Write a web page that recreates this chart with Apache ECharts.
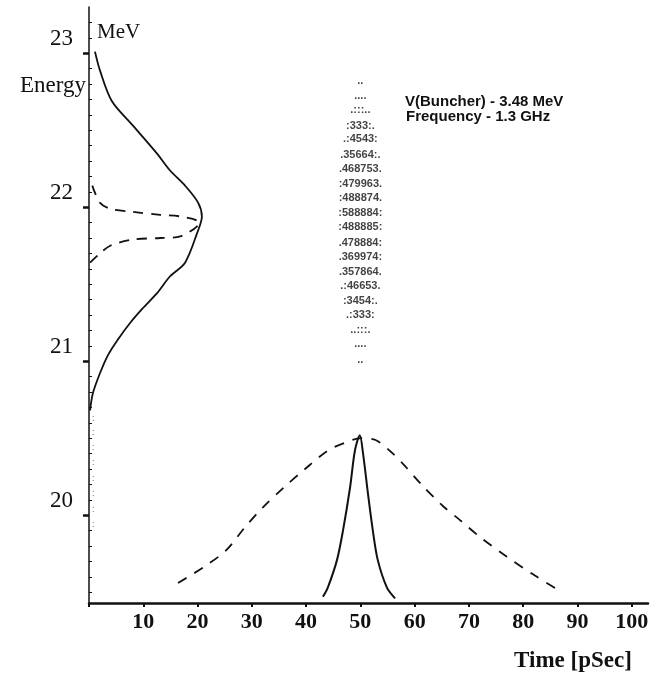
<!DOCTYPE html>
<html>
<head>
<meta charset="utf-8">
<script src="https://cdn.jsdelivr.net/npm/echarts@6/dist/echarts.min.js"></script>
<style>
  html, body { margin: 0; padding: 0; background: #fff; }
  #chart { width: 650px; height: 679px; }
</style>
</head>
<body>
<div id="chart"></div>
<script>
// energy spectrum (x = time axis units, y = MeV)
var energySolid = [
  [1.1, 23.01], [2.0, 22.89], [4.2, 22.69], [8.1, 22.53], [12.5, 22.35],
  [14.9, 22.24], [17.7, 22.14], [20.1, 22.03], [20.8, 21.94], [19.9, 21.83],
  [17.7, 21.64], [14.9, 21.55], [12.5, 21.44], [9.8, 21.34], [7.6, 21.25],
  [5.3, 21.14], [3.5, 21.04], [2.0, 20.92], [0.7, 20.79], [0.2, 20.68]
];
var energyDashed = [
  [0.6, 22.14], [2.0, 22.03], [3.9, 21.99], [8.1, 21.97], [13.1, 21.95],
  [16.8, 21.94], [20.4, 21.90], [16.8, 21.81], [13.1, 21.80], [8.1, 21.79],
  [3.9, 21.75], [1.7, 21.69], [0.2, 21.64]
];
// time profiles
var timeDashed = [
  [16.4, 19.56], [21.0, 19.66], [25.2, 19.77], [28.7, 19.92], [32.0, 20.05],
  [35.9, 20.18], [39.8, 20.30], [44.0, 20.42], [47.1, 20.47], [50.1, 20.50],
  [52.7, 20.49], [56.0, 20.40], [58.2, 20.32], [61.5, 20.19], [65.2, 20.06],
  [68.3, 19.97], [72.0, 19.86], [77.0, 19.73], [82.1, 19.61], [86.7, 19.51]
];
var timeSolid = [
  [43.1, 19.47], [44.0, 19.53], [45.7, 19.71], [46.8, 19.90], [48.1, 20.18],
  [49.0, 20.42], [49.9, 20.52], [50.5, 20.40], [51.4, 20.14], [52.3, 19.90],
  [53.2, 19.71], [54.9, 19.53], [56.4, 19.46]
];

var xTicks = [0, 10, 20, 30, 40, 50, 60, 70, 80, 90, 100];
var xTickLabels = [10, 20, 30, 40, 50, 60, 70, 80, 90, 100];
var yTickLabels = [20, 21, 22, 23];

// character density plot of the bunch at t = 50
var densityTime = 50;
var densityRows = [
  "..", "....", ".:::..", ":333:.", ".:4543:", ".35664:.", ".468753.",
  ":479963.", ":488874.", ":588884:", ":488885:", ".478884:", ".369974:",
  ".357864.", ".:46653.", ":3454:.", ".:333:", "..:::.", "....", ".."
];
var densityEnergy = [
  22.82, 22.72, 22.63, 22.53, 22.44, 22.34, 22.25, 22.15, 22.06, 21.96,
  21.87, 21.77, 21.68, 21.58, 21.49, 21.39, 21.30, 21.20, 21.11, 21.01
];
// faint ":" column right next to the energy axis
var edgeDotEnergy = [20.63, 20.54, 20.44, 20.34, 20.24, 20.14, 20.04, 19.94];

var minorTicks = [];
for (var t = 195; t <= 232; t++) {
  if (t % 10 !== 0) minorTicks.push(t / 10);
}

var ink = "#111";
var serif = "Liberation Serif";

var chart = echarts.init(document.getElementById("chart"));

chart.setOption({
  backgroundColor: "#fff",
  animation: false,
  grid: { left: 89, right: 2, top: 7, bottom: 76, containLabel: false, outerBoundsMode: "none" },
  xAxis: {
    type: "value",
    min: 0,
    max: 103,
    splitLine: { show: false },
    axisLine: { lineStyle: { color: ink, width: 2.5 } },
    axisTick: { customValues: xTicks, length: 4, lineStyle: { color: ink, width: 2 } },
    axisLabel: {
      customValues: xTickLabels,
      color: ink,
      fontFamily: serif,
      fontWeight: "bold",
      fontSize: 22,
      margin: 8
    },
    name: "Time [pSec]",
    nameLocation: "end",
    nameGap: -75,
    nameTextStyle: {
      color: ink,
      fontFamily: serif,
      fontWeight: "bold",
      fontSize: 23,
      align: "center",
      verticalAlign: "top",
      padding: [47, 0, 0, 0]
    }
  },
  yAxis: [
    {
      type: "value",
      min: 19.43,
      max: 23.3,
      position: "left",
      splitLine: { show: false },
      axisLine: { lineStyle: { color: ink, width: 1.5 } },
      axisTick: { customValues: yTickLabels, length: 6, lineStyle: { color: ink, width: 2.5 } },
      axisLabel: {
        customValues: yTickLabels,
        color: ink,
        fontFamily: serif,
        fontSize: 23,
        margin: 16,
        verticalAlign: "bottom",
        padding: [0, 0, 3, 0]
      },
      name: "Energy",
      nameLocation: "end",
      nameGap: -79,
      nameTextStyle: {
        color: ink,
        fontFamily: serif,
        fontSize: 23,
        align: "right",
        verticalAlign: "middle",
        padding: [0, 3, 0, 0]
      }
    },
    {
      type: "value",
      min: 19.43,
      max: 23.3,
      position: "left",
      splitLine: { show: false },
      axisLine: { show: false },
      axisTick: { customValues: minorTicks, inside: true, length: 3, lineStyle: { color: ink, width: 1 } },
      axisLabel: { show: false }
    }
  ],
  graphic: [
    {
      type: "text", left: 97, top: 22,
      style: { text: "MeV", fill: ink, font: "21px 'Liberation Serif'" }
    },
    {
      type: "text", left: 405, top: 94,
      style: { text: "V(Buncher) - 3.48 MeV", fill: ink, font: "bold 15px 'Liberation Sans'" }
    },
    {
      type: "text", left: 406, top: 109,
      style: { text: "Frequency - 1.3 GHz", fill: ink, font: "bold 15px 'Liberation Sans'" }
    }
  ],
  series: [
    {
      name: "energy solid", type: "line", data: energySolid, smooth: 0.3,
      showSymbol: false, lineStyle: { color: ink, width: 1.8 }
    },
    {
      name: "energy dashed", type: "line", data: energyDashed, smooth: 0.3,
      showSymbol: false, lineStyle: { color: ink, width: 1.8, type: [10, 8] }
    },
    {
      name: "time dashed", type: "line", data: timeDashed, smooth: 0.3,
      showSymbol: false, lineStyle: { color: ink, width: 1.8, type: [10, 9] }
    },
    {
      name: "time solid", type: "line", data: timeSolid, smooth: 0.3,
      showSymbol: false, lineStyle: { color: ink, width: 2 }
    },
    {
      name: "density", type: "scatter", silent: true, symbolSize: 1,
      itemStyle: { color: "rgba(0,0,0,0)" },
      data: densityRows.map(function (s, i) {
        return { name: s, value: [densityTime, densityEnergy[i]] };
      }),
      label: {
        show: true, position: "inside", formatter: function (p) { return p.name; },
        color: ink, fontFamily: "Liberation Sans", fontWeight: "bold", fontSize: 11
      }
    },
    {
      name: "edge dots", type: "scatter", silent: true, symbolSize: 1,
      itemStyle: { color: "rgba(0,0,0,0)" },
      data: edgeDotEnergy.map(function (e) { return { name: ":", value: [0.8, e] }; }),
      label: {
        show: true, position: "inside", formatter: function (p) { return p.name; },
        color: "#444", fontFamily: "Liberation Sans", fontSize: 9
      }
    }
  ]
});
</script>
</body>
</html>
